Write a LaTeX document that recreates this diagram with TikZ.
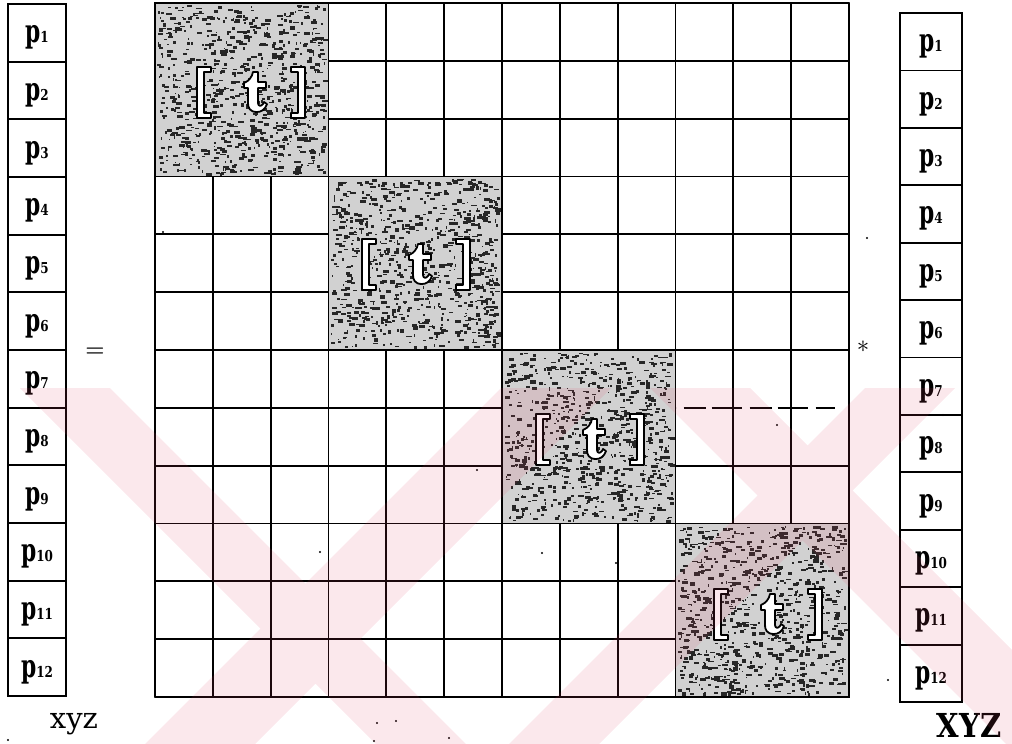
\documentclass[tikz,border=0pt]{standalone}
\usepackage{graphicx}
\usepackage{fontspec}
\newfontfamily\pfont{DejaVu Serif}
\definecolor{wm}{RGB}{230,72,105}
\tikzset{
  pbox/.style={draw, line width=1.8pt, inner sep=0pt, outer sep=0pt},
  gline/.style={line width=1.8pt, line cap=round},
  glyph/.style={fill=white, draw=black, line width=1.8pt, line join=round},
  dotmark/.style={circle, fill=black, inner sep=0pt, minimum size=2.4pt},
}
\newcommand{\plab}[1]{\raisebox{-10pt}[0pt][0pt]{\pfont\bfseries\scalebox{0.68}[1]{\fontsize{32}{32}\selectfont p}\scalebox{0.8}[1]{\fontsize{15}{15}\selectfont #1}}}
\newcommand{\noiseblock}[2]{%
  \fill[white] (#1,#2) rectangle ++(173.5,173.5);
  \fill[black!18] (#1,#2) rectangle ++(173.5,173.5);
  \foreach \k in {1,...,800}{%
    \pgfmathsetmacro{\nx}{#1+2+rnd*167}%
    \pgfmathsetmacro{\ny}{#2+2+rnd*168}%
    \pgfmathsetmacro{\nw}{1+rnd*5}%
    \pgfmathsetmacro{\nh}{1+rnd*2.5}%
    \fill[black!85] (\nx,\ny) rectangle ++(\nw,\nh);
  }%
  \draw[line width=1.8pt] (#1,#2) rectangle ++(173.5,173.5);
}
\newcommand{\tglyph}[2]{%
  \begin{scope}[shift={(#1,#2)}]
    \draw[glyph] (-54,-26) -- (-40,-26) -- (-40,-21) -- (-47,-21) -- (-47,20) -- (-40,20) -- (-40,25) -- (-54,25) -- cycle;
    \draw[glyph] (54,-26) -- (40,-26) -- (40,-21) -- (47,-21) -- (47,20) -- (40,20) -- (40,25) -- (54,25) -- cycle;
    \draw[glyph] (2,-21) -- (7,-21) -- (7,-11) -- (15,-11) -- (15,-5) -- (7,-5) -- (7,10) .. controls (7,13) and (10,14) .. (12,11) -- (13,9) -- (16,11) .. controls (14,17) and (10,19) .. (6,19) .. controls (-1,19) and (-3,15) .. (-3,10) -- (-3,-5) -- (-7,-5) -- (-7,-10) .. controls (-2,-12) and (1,-16) .. (2,-21) -- cycle;
  \end{scope}%
}
\begin{document}
\begin{tikzpicture}[x=1pt,y=-1pt]
\useasboundingbox (0,0) rectangle (1012,744);
\fill[white] (0,0) rectangle (1012,744);
\pgfmathsetseed{4711}
\def\cw{57.833}
% grid
\foreach \i in {0,...,12}{
  \draw[gline] ({155+\i*\cw},3) -- ({155+\i*\cw},697);
}
\foreach \i in {0,1,2,3,4,5,6,8,9,10,11,12}{
  \draw[gline] (155,{3+\i*\cw}) -- (849,{3+\i*\cw});
}
\draw[gline] (155,{3+7*\cw}) -- ({155+9*\cw},{3+7*\cw});
\draw[line width=1.6pt, dash pattern=on 22pt off 6pt on 30pt off 8pt] ({155+9*\cw+8},{3+7*\cw}) -- (835,{3+7*\cw});
% shaded blocks
\noiseblock{155}{3}
\noiseblock{328.5}{176.5}
\noiseblock{502}{350}
\noiseblock{675.5}{523.5}
\tglyph{251}{93}
\tglyph{416}{265}
\tglyph{590}{440}
\tglyph{768}{615}
% vectors
\foreach \i in {1,...,12}{
  \node[pbox, minimum width=58pt, minimum height=57.67pt] (L\i) at (37,{4+57.67*(\i-0.5)}) {\plab{\i}};
  \node[pbox, minimum width=62pt, minimum height=57.42pt] (R\i) at (931,{13+57.42*(\i-0.5)}) {\plab{\i}};
}
\node (eq) at (95,352) {\fontsize{22}{22}\selectfont\bfseries =};
\node (star) at (863,347) {\fontsize{26}{26}\selectfont $\ast$};
\node[anchor=base] (xyz) at (74,728) {\pfont\fontsize{29}{29}\selectfont xyz};
\node (XYZ) at (969,725) {\pfont\bfseries\scalebox{0.88}[1]{\fontsize{33}{33}\selectfont XYZ}};
% stray dots
\foreach \p/\n in {{(377,723)}/d1,{(396,721)}/d2,{(374,741)}/d3,{(449,738)}/d4,{(888,680)}/d5,{(8,740)}/d6,{(943,415)}/d7,{(320,552)}/d8,{(542,553)}/d9,{(616,563)}/d10,{(477,470)}/d11,{(777,425)}/d12,{(163,232)}/d13,{(867,238)}/d14}{
  \node[dotmark] (\n) at \p {};
}
% watermark (pink, on top)
\begin{scope}
  \clip (0,388) rectangle (1012,744);
  \fill[wm, opacity=0.12]
    (20,388) -- (110,388) -- (466,744) -- (376,744) -- cycle
    (501,388) -- (611,388) -- (255,744) -- (145,744) -- cycle
    (650,388) -- (750,388) -- (1106,744) -- (1006,744) -- cycle
    (865,388) -- (955,388) -- (599,744) -- (509,744) -- cycle;
\end{scope}
\end{tikzpicture}
\end{document}
